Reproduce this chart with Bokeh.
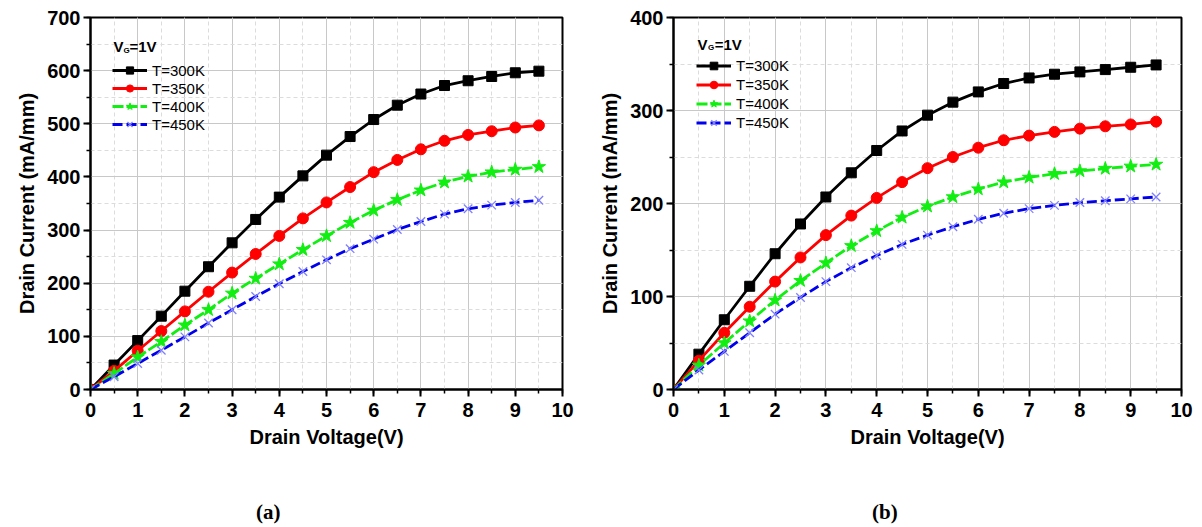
from bokeh.plotting import figure
from bokeh.layouts import row, column
from bokeh.models import Range1d, SingleIntervalTicker, Legend, LegendItem, Label, Div
from bokeh.embed import file_html
from bokeh.resources import INLINE

# ---------------- data ----------------
vd = [0, 0.5, 1, 1.5, 2, 2.5, 3, 3.5, 4, 4.5, 5, 5.5, 6, 6.5, 7, 7.5, 8, 8.5, 9, 9.5]

a_300 = [0, 46, 92, 138, 185, 231, 276, 320, 362, 402, 441, 476, 508, 535, 556, 572, 581, 589, 596, 599]
a_350 = [0, 35, 73, 110, 147, 184, 220, 255, 289, 322, 352, 381, 409, 432, 452, 468, 479, 486, 493, 497]
a_400 = [0, 30, 61, 90, 121, 150, 181, 209, 236, 263, 289, 314, 337, 357, 375, 390, 401, 409, 414, 419]
a_450 = [0, 24, 49, 74, 99, 125, 150, 175, 199, 222, 244, 265, 283, 301, 316, 330, 340, 347, 352, 356]

b_300 = [0, 38, 75, 111, 146, 178, 207, 233, 257, 278, 295, 309, 320, 329, 335, 339, 341.5, 344, 346.5, 349]
b_350 = [0, 31, 61, 89, 116, 142, 166, 187, 206, 223, 238, 250, 260, 268, 273, 277, 280.5, 283, 285, 288]
b_400 = [0, 26, 50, 73.5, 96, 117, 136, 154.5, 170.5, 185, 197, 207, 215.5, 223, 228, 232, 235, 237.6, 240, 242]
b_450 = [0, 21, 41, 61, 81, 99, 116, 131, 144, 156, 166, 175, 183, 189.5, 194.5, 198, 201, 203, 205, 207]

labels = ["T=300K", "T=350K", "T=400K", "T=450K"]
x_label = "Drain Voltage(V)"
y_label = "Drain Current (mA/mm)"
captions = ["(a)", "(b)"]

SANS = "Liberation Sans"


def make(series, ymax, width, mb_left, mb_right, mb_top, mb_bottom, legend_loc,
         legend_h, vg_pos):
    p = figure(width=width, height=497, output_backend="svg", toolbar_location=None,
               x_range=Range1d(0, 10), y_range=Range1d(0, ymax),
               min_border_left=mb_left, min_border_right=mb_right,
               min_border_top=mb_top, min_border_bottom=mb_bottom)
    p.outline_line_color = "black"
    p.outline_line_width = 2
    p.outline_line_alpha = 1
    p.background_fill_color = "white"
    p.border_fill_color = "white"

    p.xaxis.ticker = SingleIntervalTicker(interval=1, num_minor_ticks=2)
    p.yaxis.ticker = SingleIntervalTicker(interval=100, num_minor_ticks=2)
    for ax in (p.xaxis[0], p.yaxis[0]):
        ax.axis_line_width = 2
        ax.major_tick_in = 0
        ax.major_tick_out = 7
        ax.minor_tick_in = 0
        ax.minor_tick_out = 4
        ax.major_tick_line_width = 2
        ax.minor_tick_line_width = 1.5
        ax.major_label_text_font = SANS
        ax.major_label_text_font_style = "bold"
        ax.major_label_text_font_size = "20px"
        ax.major_label_text_color = "black"
        ax.axis_label_text_font = SANS
        ax.axis_label_text_font_style = "bold"
        ax.axis_label_text_font_size = "20px"
        ax.axis_label_text_color = "black"
    p.xaxis.axis_label = x_label
    p.yaxis.axis_label = y_label
    p.xaxis.major_label_standoff = 6
    p.xaxis.axis_label_standoff = 6
    p.yaxis.major_label_standoff = 3
    p.yaxis.axis_label_standoff = 6

    for g in (p.xgrid[0], p.ygrid[0]):
        g.grid_line_color = "#c8c8c8"
        g.grid_line_width = 1
        g.minor_grid_line_color = "#dcdcdc"
        g.minor_grid_line_dash = "4 3"
        g.minor_grid_line_width = 1

    styles = [
        dict(color="black", dash="solid", marker="square", size=10, mcolor="black", mline="black", mw=1),
        dict(color="red", dash="solid", marker="circle", size=11, mcolor="red", mline="red", mw=1),
        dict(color="#11ee11", dash="11 3", marker="star", size=14, mcolor="#11ee11", mline="#11ee11", mw=1),
        dict(color="#0000ee", dash="10 4", marker="x", size=12, mcolor=None, mline="#8080ff", mw=1.3),
    ]
    items = []
    for ys, lab, st in zip(series, labels, styles):
        l = p.line(vd, ys, line_color=st["color"], line_width=2.8, line_dash=st["dash"])
        s = p.scatter(vd, ys, marker=st["marker"], size=st["size"],
                      fill_color=st["mcolor"], line_color=st["mline"], line_width=st["mw"])
        items.append(LegendItem(label=lab, renderers=[l, s]))

    leg = Legend(items=items, location=legend_loc, background_fill_alpha=0,
                 border_line_alpha=0, padding=0, margin=0, spacing=0,
                 glyph_width=35, glyph_height=legend_h, label_height=legend_h,
                 label_standoff=5, label_text_font=SANS,
                 label_text_font_size="15px", label_text_color="black")
    p.add_layout(leg, "center")

    (vx, vy), (gx, gy), (ex, ey) = vg_pos
    p.add_layout(Label(x=vx, y=vy, text="V", text_font=SANS, text_font_style="bold",
                       text_font_size="15px", text_baseline="alphabetic", text_color="black"))
    p.add_layout(Label(x=gx, y=gy, text="G", text_font=SANS, text_font_style="bold",
                       text_font_size="8px", text_baseline="alphabetic", text_color="black"))
    p.add_layout(Label(x=ex, y=ey, text="=1V", text_font=SANS, text_font_style="bold",
                       text_font_size="15px", text_baseline="alphabetic", text_color="black"))
    return p


def caption(text, width, pad):
    html = ('<div style="padding-left:%dpx;font-family:\'Liberation Serif\';font-weight:bold;'
            'font-size:21px;line-height:30px;color:black;margin:0;">%s</div>' % (pad, text))
    return Div(text=html, width=width, height=30, margin=0)


pa = make([a_300, a_350, a_400, a_450], 700, 590, 90, 28, 17, 102, (22, 256), 18,
          [(0.487, 646), (0.699, 638.6), (0.826, 646)])
pb = make([b_300, b_350, b_400, b_450], 400, 612, 83, 21, 16, 108, (23, 257), 19,
          [(0.47, 371.5), (0.68, 367.5), (0.81, 371.5)])

layout = column(row(pa, pb, spacing=0),
                row(caption(captions[0], 590, 256), caption(captions[1], 612, 282), spacing=0),
                spacing=0)
open("out.html", "w").write(file_html(layout, INLINE))
